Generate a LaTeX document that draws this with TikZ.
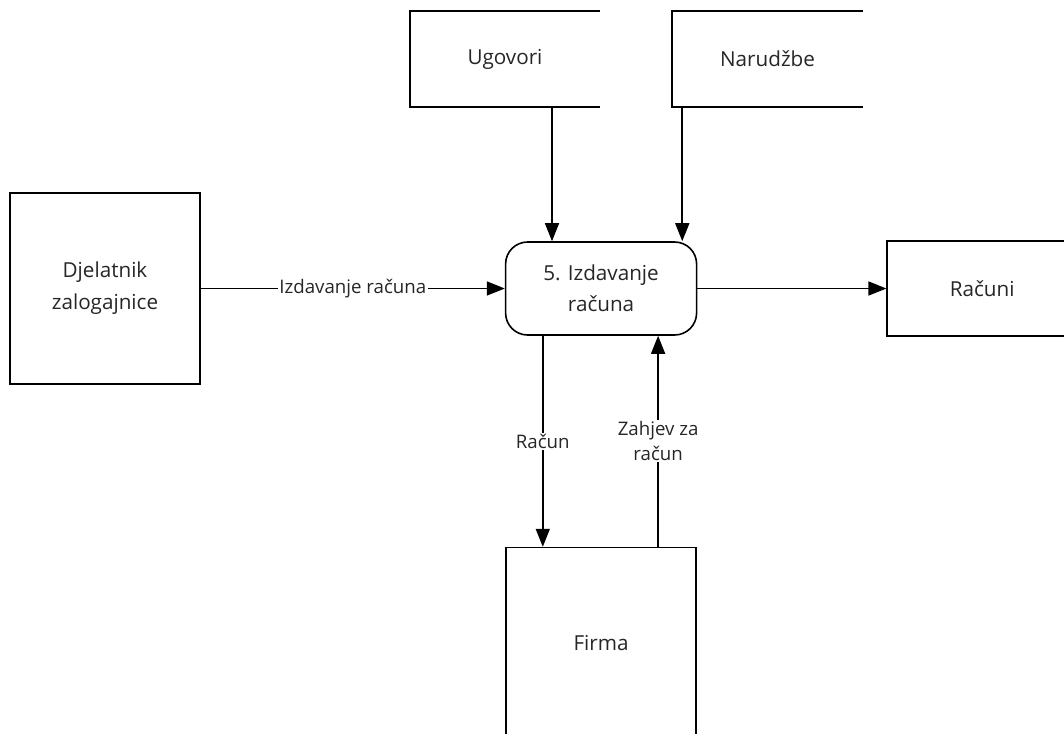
\documentclass[tikz,border=0pt]{standalone}
\usepackage{fontspec}
\setmainfont{Open Sans}
\usepackage{xcolor}
\usetikzlibrary{arrows.meta,positioning,calc}
\definecolor{txtgray}{HTML}{262626}

\begin{document}
\begin{tikzpicture}[
    x=0.75pt, y=-0.75pt,
    node distance=54pt,
    entity/.style={rectangle, draw, line width=1.2pt, minimum width=142.5pt, minimum height=143.25pt, align=center, text=txtgray, font=\fontsize{15.5}{24}\selectfont},
    process/.style={rectangle, rounded corners=16.5pt, draw, line width=1.2pt, minimum width=143.25pt, minimum height=69.75pt, align=center, text=txtgray, font=\fontsize{15.5}{23}\selectfont},
    store/.style={rectangle, minimum width=142.5pt, minimum height=72pt, text=txtgray, font=\fontsize{15.5}{24}\selectfont},
    lbl/.style={fill=white, inner sep=1pt, align=center, text=txtgray, font=\fontsize{14}{19}\selectfont},
    line/.style={line width=1.2pt},
    arrow/.style={line width=1.2pt, -{Triangle[length=13.5pt, width=10.5pt]}}
]
\useasboundingbox (0,0) rectangle (1064,733);

% External entity
\node[entity] (djel) at (105,288.5) {Djelatnik\\zalogajnice};

% Process
\node[process, right=228pt of djel] (proc) {5. Izdavanje\\računa};

% Data stores
\node[store] (ugovori) at (505,59) {Ugovori};
\node[store, right=54pt of ugovori] (narudzbe) {Narudžbe};
\draw[line] (ugovori.north east) -- (ugovori.north west) -- (ugovori.south west) -- (ugovori.south east);
\draw[line] (narudzbe.north east) -- (narudzbe.north west) -- (narudzbe.south west) -- (narudzbe.south east);

% Outputs
\node[entity, minimum height=71.25pt, right=141.75pt of proc] (racuni) {Računi};
\node[entity, below=158.25pt of proc] (firma) {Firma};

% Flows
\draw[arrow] (djel.east) -- (proc.west) node[midway, lbl] {Izdavanje računa};
\draw[arrow] (proc.east) -- (racuni.west);
\draw[arrow] ($(ugovori.south)+(47,0)$) coordinate (u) -- (u |- proc.north);
\draw[arrow] ($(narudzbe.south west)+(10,0)$) coordinate (n) -- (n |- proc.north);
\draw[arrow] ($(proc.south west)+(38,0)$) coordinate (r) -- (r |- firma.north) node[midway, lbl] {Račun};
\draw[arrow] ($(firma.north)+(57,0)$) coordinate (z) -- (z |- proc.south) node[midway, lbl] {Zahjev za\\račun};

\end{tikzpicture}
\end{document}
